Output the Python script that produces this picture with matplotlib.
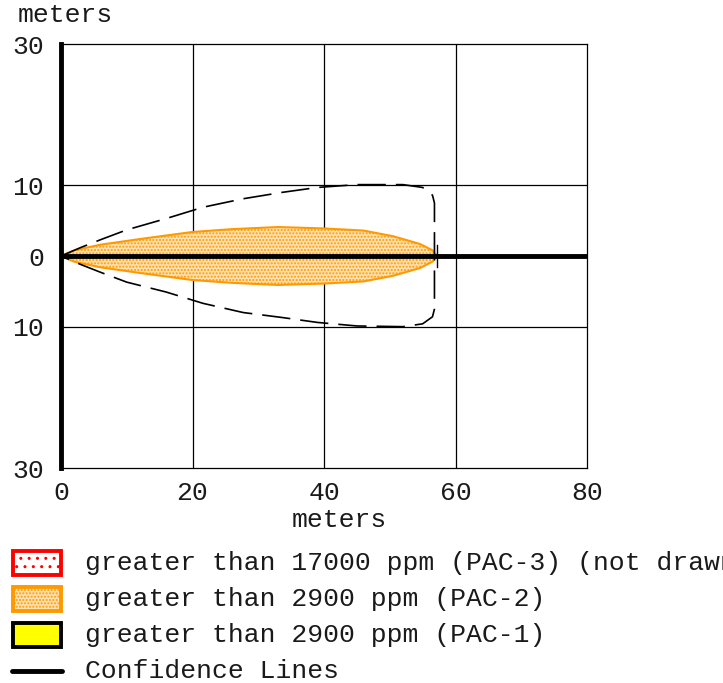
import numpy as np
import matplotlib
matplotlib.use("Agg")
import matplotlib.pyplot as plt
from matplotlib.patches import Rectangle

plt.rcParams['font.family'] = ['Liberation Mono', 'DejaVu Sans Mono']
plt.rcParams['hatch.linewidth'] = 1.0

# PAC-2 footprint (half width either side of the centreline, meters)
plume_x = [0, 2, 6, 12, 20, 26, 33, 40, 46, 50.5, 54.6, 56.5, 57.2]
plume_half = [0, 0.8, 1.6, 2.4, 3.4, 3.8, 4.1, 3.9, 3.6, 2.8, 1.7, 0.8, 0]

# confidence lines, upper and lower edges
conf_x = [0, 3, 6, 10, 16, 21.6, 27.7, 33.6, 39, 45, 52, 55, 56.5, 56.8]
conf_upper = [0, 1.2, 2.3, 3.7, 5.3, 6.9, 8.1, 9.0, 9.7, 10.1, 10.1, 9.7, 8.6, 7.5]
conf_lower = [0, -1.2, -2.3, -3.7, -5.1, -6.7, -8.0, -8.7, -9.4, -9.9, -10.0, -9.6, -8.6, -7.5]

x_ticks = [0, 20, 40, 60, 80]
y_ticks = [-30, -10, 0, 10, 30]
y_ticklabels = ['30', '10', '0', '10', '30']

legend_labels = ['greater than 17000 ppm (PAC-3) (not drawn)',
                 'greater than 2900 ppm (PAC-2)',
                 'greater than 2900 ppm (PAC-1)',
                 'Confidence Lines']

W, H = 723, 683
fs = 19
txt = '#1a1a1a'
orange = '#FF9900'

fig = plt.figure(figsize=(W / 100, H / 100), dpi=100)
ax = fig.add_axes([61 / W, 1 - 468 / H, 526 / W, 424 / H])
ax.set_xlim(0, 80)
ax.set_ylim(-30, 30)

# grid
for gx in [20, 40, 60]:
    ax.axvline(gx, color='black', lw=0.9, zorder=1)
for gy in [-10, 10]:
    ax.axhline(gy, color='black', lw=0.9, zorder=1)

# plume
px = np.array(plume_x)
ph = np.array(plume_half)
ax.fill_between(px, -ph, ph, facecolor='#FFE2B4', edgecolor=orange,
                hatch='.....', lw=1.5, zorder=2)

# confidence lines as one closed outline
cx = np.array(conf_x)
outline_x = np.concatenate([cx, cx[::-1]])
outline_y = np.concatenate([conf_upper, conf_lower[::-1]])
ax.plot(outline_x, outline_y, color='black', lw=1.2,
        linestyle=(0, (17, 6)), zorder=3)

# centreline and end mark
ax.plot([0, 80], [0, 0], color='black', lw=3.5, zorder=4)
ax.plot([plume_x[-1], plume_x[-1]], [-1.6, 1.6], color='black', lw=1.0, zorder=4)

ax.set_xticks(x_ticks)
ax.set_yticks(y_ticks)
ax.set_yticklabels(y_ticklabels)
ax.tick_params(length=0, labelsize=fs, labelcolor=txt)
ax.tick_params(axis='y', pad=12)
ax.tick_params(axis='x', pad=9)
for s in ['top', 'right', 'bottom']:
    ax.spines[s].set_linewidth(0.9)
ax.spines['left'].set_linewidth(3.5)

fig.text(18 / W, 1 - 15 / H, 'meters', fontsize=fs, color=txt, ha='left', va='center')
fig.text(339 / W, 1 - 520 / H, 'meters', fontsize=fs, color=txt, ha='center', va='center')

# legend drawn in pixel coordinates
lg = fig.add_axes([0, 0, 1, 1], zorder=-1)
lg.set_xlim(0, W)
lg.set_ylim(H, 0)
lg.axis('off')
rows = [563, 599, 635, 671]
lg.add_patch(Rectangle((13, rows[0] - 12), 48, 24, facecolor='white', edgecolor='red',
                       hatch='..', lw=2.8))
lg.add_patch(Rectangle((13, rows[1] - 12), 48, 24, facecolor='#FFE2B4', edgecolor=orange,
                       hatch='.....', lw=2.8))
lg.add_patch(Rectangle((13, rows[2] - 12), 48, 24, facecolor='#FFFF00', edgecolor='black',
                       lw=2.8))
lg.plot([12, 62], [rows[3], rows[3]], color='black', lw=3.5, solid_capstyle='round')
for r, lab in zip(rows, legend_labels):
    lg.text(85, r, lab, fontsize=fs, color=txt, ha='left', va='center')

fig.savefig('out.png', dpi=100)
